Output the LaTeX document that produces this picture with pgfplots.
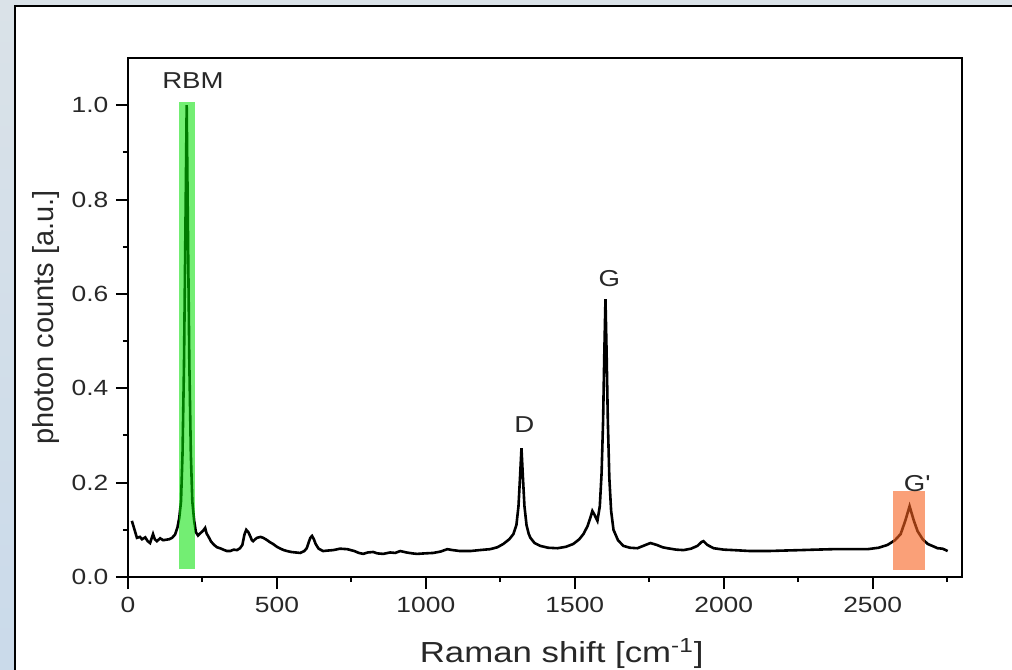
\documentclass[border=0pt]{standalone}
\usepackage{fontspec}
\setmainfont{Liberation Sans}[FakeStretch=1.2]
\newfontfamily\ylabfont{Liberation Sans}
\usepackage{pgfplots}
\pgfplotsset{compat=1.18}
\definecolor{rbmgreen}{RGB}{0,225,0}
\definecolor{gporange}{RGB}{247,97,30}
\definecolor{edgeA}{RGB}{218,226,232}
\definecolor{edgeB}{RGB}{202,218,234}
\definecolor{txt}{RGB}{40,40,40}

\begin{document}
\begin{tikzpicture}
\useasboundingbox (0,0) rectangle (506bp,335bp);
\fill[white] (0,0) rectangle (506bp,335bp);
\shade[top color=edgeA, bottom color=edgeB] (0,0) rectangle (7.5bp,335bp);
\fill[edgeA] (0,332bp) rectangle (506bp,335bp);
\draw[line width=1bp] (7.5bp,0) -- (7.5bp,332bp) -- (506bp,332bp);

\begin{axis}[
  at={(64bp,46.5bp)}, anchor=south west,
  scale only axis, width=417bp, height=259.5bp,
  xmin=0, xmax=2800, ymin=0, ymax=1.1,
  line width=1bp,
  xtick={0,500,...,2500}, minor xtick={250,750,...,2750},
  ytick={0,0.2,...,1.0}, minor ytick={0.1,0.3,0.5,0.7,0.9},
  xtick pos=bottom, ytick pos=left,
  tick align=outside,
  major tick length=6bp, minor tick length=2.5bp,
  tick style={black, line width=1bp},
  /pgf/number format/assume math mode=true,
  /pgf/number format/1000 sep={},
  yticklabel style={/pgf/number format/fixed, /pgf/number format/fixed zerofill, /pgf/number format/precision=1},
  tick label style={font=\fontsize{11bp}{12bp}\selectfont, text=txt},
  xlabel={Raman shift [cm\textsuperscript{-1}]},
  ylabel={photon counts [a.u.]},
  xlabel style={font=\fontsize{14.5bp}{16bp}\selectfont, text=txt, at={(axis description cs:0.52,-0.1657)}, anchor=base},
  ylabel style={font=\ylabfont\fontsize{14.5bp}{16bp}\selectfont, text=txt, at={(axis description cs:-0.098,0.5)}, anchor=center},
]
\addplot[black, line width=1.3bp, mark=none] coordinates {
(13,0.119) (22,0.10) (30,0.083) (40,0.085) (47,0.080) (58,0.084) (66,0.076) (74,0.072) (84,0.091) (90,0.080) (97,0.076) (108,0.082) (118,0.078) (128,0.079) (138,0.080) (148,0.083) (158,0.090) (166,0.105) (172,0.125) (178,0.16) (183,0.26) (188,0.45) (193,0.75) (197,1.0) (201,0.75) (206,0.45) (211,0.26) (216,0.16) (222,0.12) (228,0.095) (235,0.088) (245,0.094) (252,0.098) (259,0.104) (264,0.092) (269,0.087) (279,0.075) (289,0.068) (299,0.063) (309,0.061) (320,0.058) (332,0.055) (343,0.055) (355,0.058) (366,0.057) (376,0.061) (384,0.068) (391,0.090) (397,0.100) (404,0.095) (410,0.087) (416,0.078) (420,0.076) (427,0.080) (433,0.083) (445,0.085) (454,0.083) (465,0.079) (476,0.074) (487,0.070) (500,0.064) (512,0.060) (523,0.057) (534,0.055) (548,0.053) (563,0.052) (578,0.051) (592,0.055) (600,0.061) (606,0.072) (612,0.083) (618,0.087) (624,0.080) (630,0.070) (640,0.060) (655,0.055) (670,0.056) (689,0.057) (712,0.060) (736,0.059) (760,0.055) (775,0.051) (790,0.049) (805,0.052) (823,0.053) (838,0.050) (857,0.049) (880,0.052) (897,0.051) (914,0.055) (935,0.052) (955,0.050) (971,0.049) (995,0.050) (1025,0.051) (1050,0.054) (1072,0.059) (1090,0.057) (1115,0.055) (1149,0.055) (1180,0.057) (1216,0.059) (1240,0.063) (1260,0.070) (1280,0.080) (1294,0.091) (1304,0.11) (1311,0.15) (1316,0.21) (1321,0.273) (1326,0.21) (1331,0.15) (1338,0.11) (1345,0.092) (1351,0.083) (1365,0.072) (1384,0.066) (1410,0.062) (1442,0.061) (1470,0.064) (1495,0.070) (1515,0.080) (1529,0.091) (1543,0.108) (1552,0.125) (1559,0.140) (1566,0.132) (1576,0.119) (1584,0.150) (1590,0.22) (1595,0.33) (1599,0.47) (1603,0.589) (1607,0.47) (1611,0.33) (1616,0.21) (1622,0.14) (1630,0.100) (1645,0.078) (1663,0.066) (1685,0.062) (1710,0.061) (1730,0.066) (1754,0.072) (1775,0.068) (1795,0.063) (1811,0.061) (1840,0.058) (1865,0.057) (1890,0.060) (1912,0.066) (1925,0.074) (1932,0.076) (1945,0.068) (1966,0.061) (2000,0.058) (2033,0.057) (2090,0.055) (2147,0.055) (2200,0.056) (2258,0.057) (2310,0.058) (2369,0.059) (2420,0.059) (2483,0.059) (2520,0.062) (2550,0.068) (2575,0.078) (2594,0.091) (2610,0.12) (2624,0.150) (2638,0.12) (2651,0.097) (2668,0.080) (2685,0.070) (2700,0.066) (2718,0.061) (2735,0.060) (2752,0.055)
};
% highlight boxes over the peaks
\fill[rbmgreen, fill opacity=0.55] (axis cs:171,0.017) rectangle (axis cs:225,1.006);
\fill[gporange, fill opacity=0.6] (axis cs:2567,0.015) rectangle (axis cs:2675,0.182);
% peak names
\node[font=\fontsize{11.5bp}{12bp}\selectfont, text=txt] at (axis cs:218,1.053) {RBM};
\node[font=\fontsize{11.5bp}{12bp}\selectfont, text=txt] at (axis cs:1331,0.322) {D};
\node[font=\fontsize{11.5bp}{12bp}\selectfont, text=txt] at (axis cs:1616,0.633) {G};
\node[font=\fontsize{11.5bp}{12bp}\selectfont, text=txt] at (axis cs:2648,0.199) {G\textquotesingle};
\end{axis}
\end{tikzpicture}
\end{document}
